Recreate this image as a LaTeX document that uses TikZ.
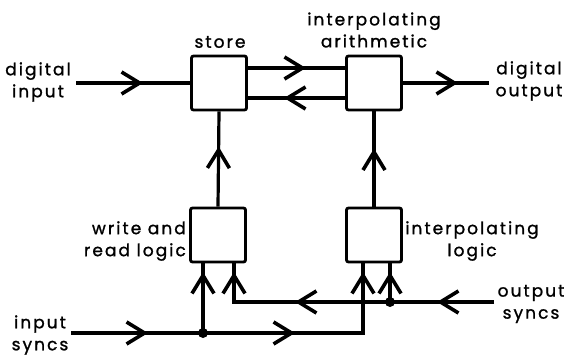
\documentclass[tikz,border=0pt]{standalone}
\usepackage{fontspec}
\setmainfont{Poppins}[LetterSpace=12, FakeBold=1.2]
\usetikzlibrary{arrows.meta,decorations.markings,calc}
\tikzset{
  blk/.style={draw, line width=2.8pt, rounded corners=2pt, minimum width=55pt, minimum height=54pt, inner sep=0pt},
  wire/.style={line width=3.2pt},
  lbl/.style={align=center, font=\fontsize{17}{22}\selectfont, inner sep=0pt},
  arrat/.style={postaction={decorate, decoration={markings, mark=at position #1 with {\arrow{Straight Barb[length=18pt,width=22pt,line width=3.6pt]}}}}},
  junc/.style={circle, fill, inner sep=0pt, minimum size=10pt},
}
\begin{document}
\begin{tikzpicture}[x=1pt,y=-1pt]
\useasboundingbox (0,0) rectangle (564,358);
% blocks
\node[blk] (store) at (219,83) {};
\node[blk] (arith) at (374,83) {};
\node[blk] (wr) at (218,235) {};
\node[blk] (il) at (374,235) {};
% coordinates
\coordinate (din) at (76,83);
\coordinate (dout) at (489,83);
\coordinate (ya) at (0,68);
\coordinate (yb) at (0,98);
\coordinate (isy) at (71,333);
\coordinate (osy) at (494,302);
\node[junc] (j1) at (203,333) {};
\node[junc] (j2) at (390,302) {};
\coordinate (c1) at (363,333);
\coordinate (c2) at (234,302);
% connectors
\draw[wire,arrat=67pt] (din) -- (store.west);
\draw[wire,arrat=58pt] (store.east |- ya) -- (arith.west |- ya);
\draw[wire,arrat=61pt] (arith.west |- yb) -- (store.east |- yb);
\draw[wire,arrat=55pt] (arith.east) -- (dout);
\draw[wire,arrat=60pt] (wr.north) -- (store.south);
\draw[wire,arrat=58pt] (il.north) -- (arith.south);
\draw[wire,arrat=77pt] (isy) -- (j1.center);
\draw[wire,arrat=61pt] (j1.center) -- (j1 |- wr.south);
\draw[wire,arrat=92pt,arrat=221pt] (j1.center) -- (c1) -- (c1 |- il.south);
\draw[wire,arrat=57pt] (osy) -- (j2.center);
\draw[wire,arrat=30pt] (j2.center) -- (j2 |- il.south);
\draw[wire,arrat=95pt,arrat=186pt] (j2.center) -- (c2) -- (c2 |- wr.south);
% labels
\node[lbl] (tdin) at (38,82) {digital\\input};
\node[lbl] (tstore) at (220,42) {store};
\node[lbl] (tarith) at (374,30) {interpolating\\arithmetic};
\node[lbl] (tdout) at (529,81) {digital\\output};
\node[lbl, align=right, anchor=east] (twr) at (186,241) {write and\\read logic};
\node[lbl] (til) at (472,241) {interpolating\\logic};
\node[lbl] (tosy) at (531,304) {output\\syncs};
\node[lbl] (tisy) at (40,335) {input\\syncs};
\end{tikzpicture}
\end{document}
